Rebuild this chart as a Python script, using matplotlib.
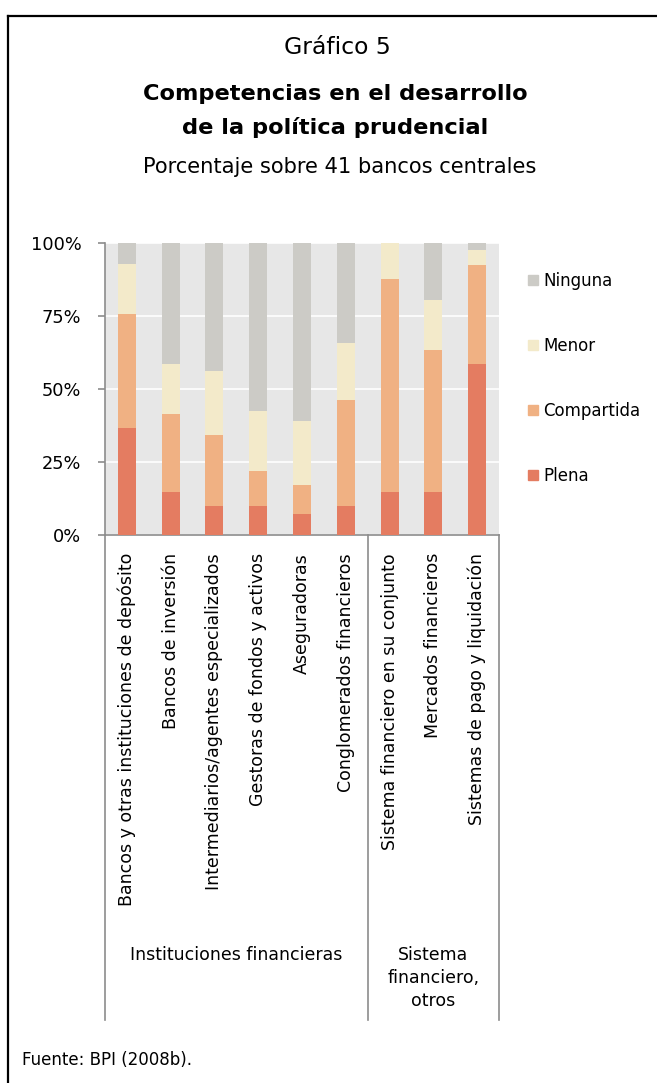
import matplotlib.pyplot as plt
import numpy as np
from matplotlib.lines import Line2D
from matplotlib.patches import Patch
import matplotlib.transforms as mtransforms

plt.rcParams['font.family'] = ['DejaVu Sans']

categorias = [
    'Bancos y otras instituciones de depósito',
    'Bancos de inversión',
    'Intermediarios/agentes especializados',
    'Gestoras de fondos y activos',
    'Aseguradoras',
    'Conglomerados financieros',
    'Sistema financiero en su conjunto',
    'Mercados financieros',
    'Sistemas de pago y liquidación',
]
grupos = ['Instituciones financieras', 'Sistema\nfinanciero,\notros']

# porcentaje de bancos centrales en cada nivel de competencia
plena = [36.6, 14.6, 9.8, 9.8, 7.3, 9.8, 14.6, 14.6, 58.5]
compartida = [39.0, 26.8, 24.4, 12.2, 9.8, 36.6, 73.2, 48.8, 34.1]
menor = [17.1, 17.1, 22.0, 20.5, 22.0, 19.5, 12.2, 17.1, 4.9]
ninguna = [7.3, 41.5, 43.9, 57.5, 61.0, 34.1, 0.0, 19.5, 2.4]

series = [('Plena', plena, '#e47c61'),
          ('Compartida', compartida, '#f0b183'),
          ('Menor', menor, '#f3eaca'),
          ('Ninguna', ninguna, '#cccbc6')]

W, H = 657, 1083
fig = plt.figure(figsize=(W / 100, H / 100), dpi=100)
fig.patch.set_facecolor('white')

# marco: solo lineas superior e izquierda
fig.add_artist(Line2D([7.5 / W, 7.5 / W], [0, 1 - 15.5 / H], color='black', lw=1.6))
fig.add_artist(Line2D([7.5 / W, 1], [1 - 15.5 / H, 1 - 15.5 / H], color='black', lw=1.6))

ax_l, ax_r, ax_t, ax_b = 105, 499, 243, 535
ax = fig.add_axes([ax_l / W, 1 - ax_b / H, (ax_r - ax_l) / W, (ax_b - ax_t) / H])
ax.set_facecolor('#e7e7e7')

x = np.arange(len(categorias))
bottom = np.zeros(len(categorias))
for nombre, vals, color in series:
    ax.bar(x, vals, bottom=bottom, width=0.41, color=color, edgecolor='none', label=nombre, zorder=3)
    bottom += np.array(vals)

ax.set_xlim(-0.5, len(categorias) - 0.5)
ax.set_ylim(0, 100)
ax.set_yticks([0, 25, 50, 75, 100])
ax.set_yticklabels(['0%', '25%', '50%', '75%', '100%'], fontsize=12.8)
ax.yaxis.grid(True, color='white', lw=1.2, zorder=1)
ax.set_axisbelow(True)

for s in ['top', 'right']:
    ax.spines[s].set_visible(False)
for s in ['left', 'bottom']:
    ax.spines[s].set_color('#8c8c8c')
    ax.spines[s].set_linewidth(1.2)
ax.tick_params(axis='y', length=5, width=1.2, color='#8c8c8c', pad=12)
ax.tick_params(axis='x', length=0, pad=13)
ax.set_xticks(x)
ax.set_xticklabels(categorias, rotation=90, fontsize=12.5, va='top', ha='center')

# separadores de grupo y etiquetas de grupo debajo del eje
trans = mtransforms.blended_transform_factory(ax.transData, ax.transAxes)
y_fin = -(1020 - ax_b) / (ax_b - ax_t)
for xs in [-0.5, 5.5, 8.5]:
    ax.add_line(Line2D([xs, xs], [0, y_fin], transform=trans, color='#8c8c8c',
                       lw=1.2, clip_on=False))
y_grp = -(946 - ax_b) / (ax_b - ax_t)
ax.text(2.5, y_grp, grupos[0], transform=trans, ha='center', va='top', fontsize=12.5)
ax.text(7.0, y_grp, grupos[1], transform=trans, ha='center', va='top', fontsize=12.5,
        linespacing=1.35)

handles = [Patch(color=c, label=n) for n, v, c in series][::-1]
ax.legend(handles=handles, loc='center left',
          bbox_to_anchor=((528 - ax_l) / (ax_r - ax_l), (ax_b - 378.5) / (ax_b - ax_t)),
          frameon=False, fontsize=12, handlelength=0.6, handleheight=0.6,
          handletextpad=0.3, labelspacing=2.82, borderaxespad=0, borderpad=0)

fig.text(337 / W, 1 - 47 / H, 'Gráfico 5', ha='center', va='center', fontsize=16.9)
fig.text(335.5 / W, 1 - 94 / H, 'Competencias en el desarrollo', ha='center', va='center',
         fontsize=16.2, fontweight='bold')
fig.text(335.5 / W, 1 - 127 / H, 'de la política prudencial', ha='center', va='center',
         fontsize=16.2, fontweight='bold')
fig.text(339.5 / W, 1 - 167 / H, 'Porcentaje sobre 41 bancos centrales', ha='center',
         va='center', fontsize=15.1)
fig.text(22 / W, 1 - 1060 / H, 'Fuente: BPI (2008b).', ha='left', va='center', fontsize=12)

fig.savefig('out.png', dpi=100)
